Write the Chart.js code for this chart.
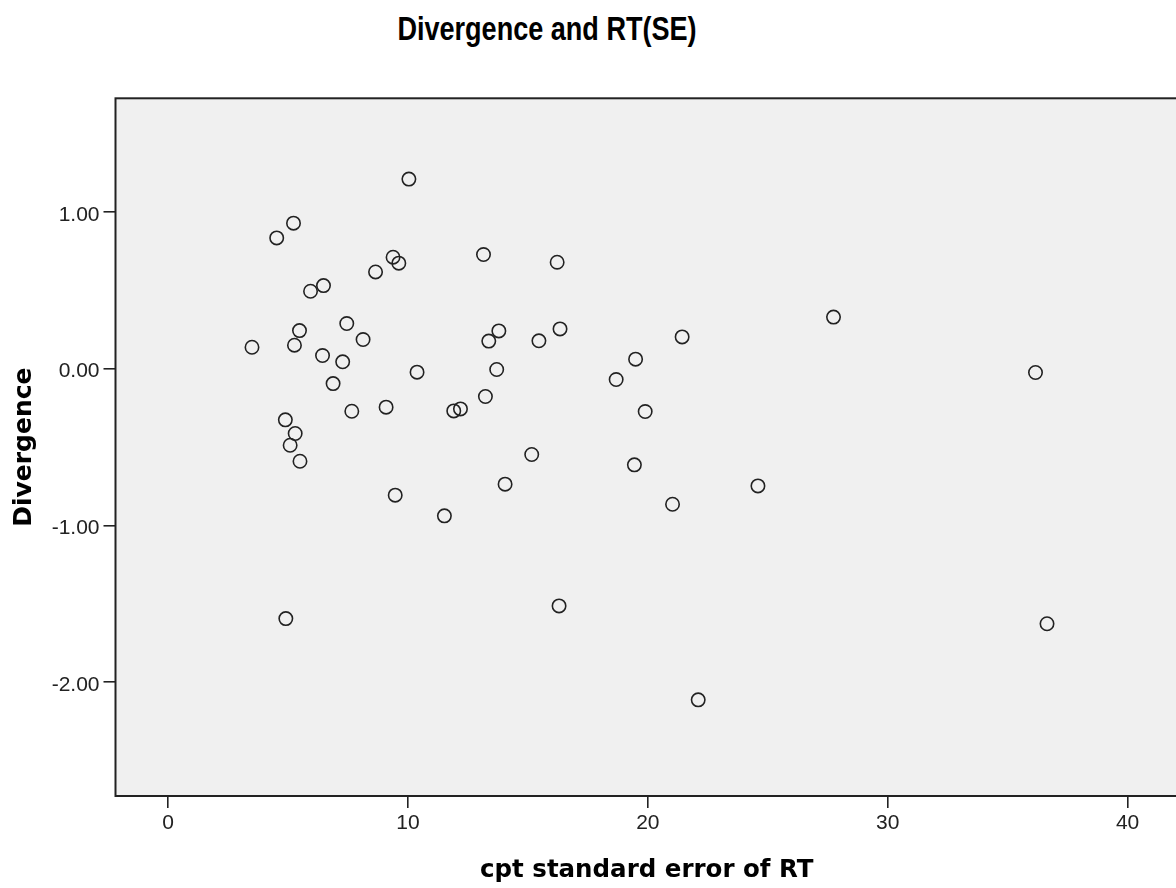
<!DOCTYPE html>
<html>
<head>
<meta charset="utf-8">
<title>Divergence and RT(SE)</title>
<script src="https://cdn.jsdelivr.net/npm/chart.js@4.4.1/dist/chart.umd.min.js"></script>
<style>
  html, body { margin: 0; padding: 0; background: #fff; overflow: hidden; }
  #wrap { position: relative; width: 1176px; height: 888px; overflow: hidden; }
  #title {
    position: absolute; left: 0; top: 10px; width: 1094px;
    text-align: center; line-height: 1; color: #000;
    font: bold 33px "Liberation Sans", Arial, sans-serif;
    transform: scaleX(0.82);
  }
  canvas { position: absolute; left: 0; top: 0; }
</style>
</head>
<body>
<div id="wrap">
  <div id="title">Divergence and RT(SE)</div>
  <!-- canvas is 2px wider than the page so the right side of the frame is cut off -->
  <canvas id="chart" width="1178" height="888"></canvas>
</div>
<script>
//------------------------Data----------------------------------//
const seRT = [
  10.04, 5.23, 4.53, 9.38, 9.62, 8.65, 6.48, 5.94, 7.45, 5.48,
  8.13, 3.50, 5.27, 6.44, 7.28, 6.88, 10.38, 7.66, 9.09, 4.89,
  5.30, 5.09, 5.50, 9.47, 4.91, 13.15, 16.22, 13.79, 13.37, 15.46,
  16.34, 21.43, 19.49, 18.68, 13.70, 13.23, 11.91, 12.19, 19.89, 15.16,
  14.05, 11.52, 19.44, 21.03, 24.59, 16.30, 22.10, 27.74, 36.16, 36.64
];
const divergence = [
  1.208, 0.927, 0.833, 0.710, 0.672, 0.616, 0.529, 0.493, 0.287, 0.242,
  0.185, 0.136, 0.149, 0.083, 0.043, -0.096, -0.023, -0.272, -0.246, -0.327,
  -0.414, -0.489, -0.591, -0.807, -1.594, 0.727, 0.678, 0.240, 0.175, 0.177,
  0.253, 0.202, 0.060, -0.070, -0.006, -0.178, -0.270, -0.257, -0.274, -0.548,
  -0.737, -0.939, -0.614, -0.865, -0.748, -1.513, -2.112, 0.328, -0.025, -1.627
];
const xTicks = [0, 10, 20, 30, 40];
const yTicks = [1, 0, -1, -2];

const points = seRT.map((x, i) => ({ x: x, y: divergence[i] }));

// grey plot background + black frame, like the SPSS output
const plotFrame = {
  id: 'plotFrame',
  beforeDatasetsDraw(chart) {
    const { ctx, chartArea: a } = chart;
    ctx.save();
    ctx.fillStyle = '#f0f0f0';
    ctx.fillRect(a.left, a.top, a.right - a.left, a.bottom - a.top);
    ctx.strokeStyle = '#222';
    ctx.lineWidth = 2;
    ctx.strokeRect(a.left, a.top, a.right - a.left, a.bottom - a.top);
    ctx.restore();
  }
};

const tickFont = { family: '"Liberation Sans", Arial, sans-serif', size: 21 };
const titleFont = { family: '"DejaVu Sans", Verdana, sans-serif', size: 24.5, weight: 'bold' };

let chart = document.getElementById('chart').getContext('2d');

let scatter = new Chart(chart, {
  type: 'scatter',
  data: {
    datasets: [{
      label: 'Divergence',
      data: points,
      pointStyle: 'circle',
      pointRadius: 6.7,
      pointHoverRadius: 6.7,
      pointBorderWidth: 1.6,
      pointBackgroundColor: 'rgba(0,0,0,0)',
      pointBorderColor: '#222'
    }]
  },
  options: {
    responsive: false,
    animation: false,
    events: [],
    layout: { autoPadding: false, padding: { top: 98.3, right: 0, bottom: 0, left: 0 } },
    plugins: {
      legend: { display: false },
      tooltip: { enabled: false },
      title: { display: false }
    },
    scales: {
      x: {
        type: 'linear',
        min: -2.19,
        max: 42.1,
        afterBuildTicks: s => { s.ticks = xTicks.map(v => ({ value: v })); },
        afterFit: s => { s.height = 92; },
        border: { display: false },
        grid: { drawOnChartArea: false, drawTicks: true, tickLength: 12, color: '#222', lineWidth: 1.6 },
        ticks: { font: tickFont, color: '#222', padding: 3, maxRotation: 0 },
        title: { display: true, text: 'cpt standard error of RT', font: titleFont, color: '#000', padding: { top: 0, bottom: 3 } }
      },
      y: {
        type: 'linear',
        min: -2.725,
        max: 1.723,
        afterBuildTicks: s => { s.ticks = yTicks.map(v => ({ value: v })); },
        afterFit: s => { s.width = 115.5; },
        border: { display: false },
        grid: { drawOnChartArea: false, drawTicks: true, tickLength: 12, color: '#222', lineWidth: 1.6 },
        ticks: {
          font: tickFont, color: '#222', padding: 4, labelOffset: 3,
          callback: v => v.toFixed(2)
        },
        title: { display: true, text: 'Divergence', font: { family: titleFont.family, size: 25, weight: 'bold' }, color: '#000', padding: { top: 9, bottom: 0 } }
      }
    }
  },
  plugins: [plotFrame]
});
</script>
</body>
</html>
